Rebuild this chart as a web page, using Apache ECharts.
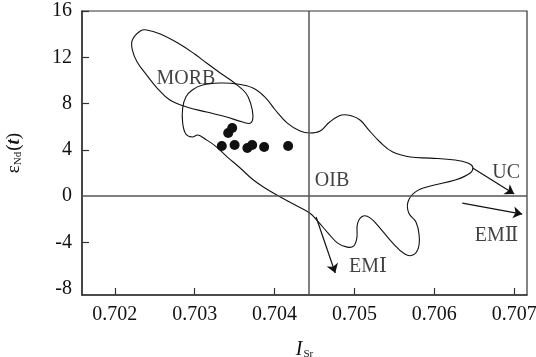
<!DOCTYPE html>
<html lang="en">
<head>
<meta charset="UTF-8">
<title>εNd(t) - ISr</title>
<style>
  html, body { margin: 0; padding: 0; background: #fff; }
  #chart { width: 536px; height: 357px; }
</style>
</head>
<body>
<div id="chart"></div>
<script src="https://cdn.jsdelivr.net/npm/echarts@6/dist/echarts.min.js"></script>
<script>
// axis ticks and ranges
var xTicks = [0.702, 0.703, 0.704, 0.705, 0.706, 0.707];
var yTicks = [-8, -4, 0, 4, 8, 12, 16];
var xRange = [0.70159, 0.70716];
var yRange = [-8.56, 16];

// samples (ISr, εNd(t))
var samples = [
    [0.70342, 5.45], [0.70347, 5.88], [0.70334, 4.32], [0.70350, 4.41],
    [0.70366, 4.15], [0.70372, 4.41], [0.70387, 4.24], [0.70417, 4.32]
];

// MORB field outline
var morbField = [
    [0.70232, 14.27], [0.70222, 13.49], [0.70222, 12.63], [0.70228, 11.59],
    [0.70240, 10.46], [0.70253, 9.34], [0.70269, 8.30], [0.70290, 7.70],
    [0.70315, 7.26], [0.70340, 6.83], [0.70360, 6.40], [0.70370, 6.31],
    [0.70373, 6.92], [0.70370, 8.04], [0.70364, 8.91], [0.70350, 9.77],
    [0.70332, 10.64], [0.70315, 11.50], [0.70300, 12.28], [0.70279, 13.23],
    [0.70257, 14.01], [0.70240, 14.36]
];

// OIB field outline
var oibField = [
    [0.70285, 7.61], [0.70289, 8.56], [0.70297, 9.17], [0.70310, 9.60],
    [0.70332, 9.77], [0.70353, 9.69], [0.70373, 9.34], [0.70388, 8.56],
    [0.70401, 7.44], [0.70416, 6.31], [0.70432, 5.62], [0.70444, 5.45],
    [0.70457, 5.62], [0.70469, 6.40], [0.70484, 7.00], [0.70497, 6.92],
    [0.70507, 6.57], [0.70517, 5.79], [0.70532, 4.67], [0.70548, 3.80],
    [0.70570, 3.37], [0.70595, 3.28], [0.70626, 3.11], [0.70642, 2.85],
    [0.70648, 2.51], [0.70645, 1.99], [0.70626, 1.38], [0.70595, 0.86],
    [0.70576, 0.34], [0.70567, -0.52], [0.70568, -1.47], [0.70577, -2.25],
    [0.70581, -3.38], [0.70580, -4.50], [0.70573, -5.11], [0.70563, -5.02],
    [0.70548, -4.07], [0.70532, -2.77], [0.70520, -1.91], [0.70511, -1.73],
    [0.70504, -2.34], [0.70503, -3.64], [0.70499, -4.33], [0.70491, -4.42],
    [0.70479, -4.07], [0.70467, -3.20], [0.70454, -2.17], [0.70444, -1.47],
    [0.70426, -0.78], [0.70405, 0.00], [0.70386, 0.78], [0.70372, 1.47],
    [0.70357, 2.42], [0.70341, 3.37], [0.70326, 4.32], [0.70313, 4.93],
    [0.70304, 5.27], [0.70297, 5.10], [0.70289, 5.36], [0.70285, 6.31]
];

// end-member trends: [from, to]
var trendArrows = [
    [[0.70452, -1.82], [0.70476, -6.66]],
    [[0.70648, 2.42], [0.70700, 0.17]],
    [[0.70635, -0.61], [0.70710, -1.56]]
];

var fieldNames = ['MORB', 'OIB', 'UC', 'EMⅡ', 'EMⅠ'];
var fieldLabelPos = [
    [0.70289, 10.1], [0.70472, 1.29], [0.70690, 2.03], [0.70678, -3.42], [0.70517, -6.15]
];

// bulk earth reference lines
var refX = 0.70443;
var refY = 0;

var serif = "'Liberation Serif', 'DejaVu Serif', serif";
var ink = '#111';
var fields = [morbField, oibField];

var chart = echarts.init(document.getElementById('chart'));

chart.setOption({
    animation: false,
    grid: {
        left: 82, right: 9, top: 11, bottom: 62,
        show: true, borderColor: '#333', borderWidth: 1.2,
        outerBoundsMode: 'none'
    },
    xAxis: {
        type: 'value',
        min: xRange[0], max: xRange[1],
        name: '{i|I}{s|Sr}',
        nameLocation: 'middle',
        nameGap: 45,
        nameTextStyle: {
            rich: {
                i: { fontFamily: serif, fontStyle: 'italic', fontSize: 20, color: ink },
                s: { fontFamily: serif, fontSize: 11, color: ink, padding: [8, 0, 0, 1] }
            }
        },
        axisLine: { onZero: false, lineStyle: { color: '#333', width: 1.5 } },
        axisTick: { inside: true, length: 7, customValues: xTicks, lineStyle: { color: '#333', width: 1.2 } },
        axisLabel: {
            customValues: xTicks, margin: 10, color: ink,
            fontFamily: serif, fontSize: 20
        },
        splitLine: { show: false }
    },
    yAxis: {
        type: 'value',
        min: yRange[0], max: yRange[1],
        name: '{e|ε}{s|Nd}{p|(}{i|t}{p|)}',
        nameLocation: 'middle',
        nameGap: 58,
        nameTextStyle: {
            rich: {
                e: { fontFamily: serif, fontSize: 19, color: ink },
                s: { fontFamily: serif, fontSize: 11, color: ink, padding: [8, 1, 0, 0] },
                p: { fontFamily: serif, fontSize: 19, color: ink },
                i: { fontFamily: serif, fontSize: 19, fontStyle: 'italic', fontWeight: 'bold', color: ink }
            }
        },
        axisLine: { onZero: false, lineStyle: { color: '#333', width: 1.5 } },
        axisTick: { inside: true, length: 7, customValues: [-4, 4, 8, 12, 16], lineStyle: { color: '#333', width: 1.2 } },
        axisLabel: {
            customValues: yTicks, margin: 10, color: ink,
            fontFamily: serif, fontSize: 20
        },
        splitLine: { show: false }
    },
    series: [
        {
            type: 'custom',
            silent: true,
            z: 3,
            data: [morbField[0], oibField[0]],
            renderItem: function (params, api) {
                var pts = fields[params.dataIndex].map(function (p) { return api.coord(p); });
                return {
                    type: 'polygon',
                    shape: { points: pts, smooth: 0.4 },
                    style: { fill: 'none', stroke: ink, lineWidth: 1.1 }
                };
            }
        },
        {
            type: 'scatter',
            silent: true,
            z: 4,
            symbolSize: 10,
            itemStyle: { color: ink, opacity: 1 },
            data: samples,
            markLine: {
                silent: true,
                symbol: ['none', 'none'],
                label: { show: false },
                lineStyle: { color: '#555', width: 1.5, type: 'solid' },
                data: [
                    [{ coord: [refX, yRange[0]] }, { coord: [refX, yRange[1]] }],
                    [{ coord: [xRange[0], refY] }, { coord: [xRange[1], refY] }]
                ]
            }
        },
        {
            type: 'scatter',
            silent: true,
            z: 5,
            symbolSize: 0,
            data: fieldNames.map(function (n, i) { return { name: n, value: fieldLabelPos[i] }; }),
            label: {
                show: true, position: 'inside', formatter: '{b}',
                color: ink, fontFamily: serif, fontSize: 20
            },
            markLine: {
                silent: true,
                symbol: ['none', 'arrow'],
                symbolSize: 9,
                label: { show: false },
                lineStyle: { color: ink, width: 1.2, type: 'solid' },
                data: trendArrows.map(function (a) { return [{ coord: a[0] }, { coord: a[1] }]; })
            }
        }
    ]
});
</script>
</body>
</html>
